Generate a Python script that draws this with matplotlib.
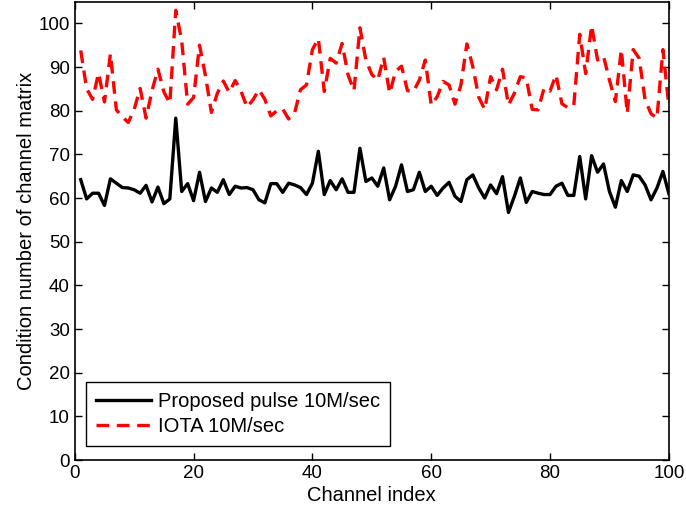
import matplotlib
matplotlib.use("Agg")
import matplotlib.pyplot as plt
import numpy as np

plt.rcParams['font.family'] = ['Liberation Sans', 'DejaVu Sans']

channels = np.arange(1, 101)

proposed = [64.2, 59.8, 61.1, 61.1, 58.3, 64.4, 63.4, 62.4, 62.3, 61.9,
            61.1, 62.9, 59.1, 62.5, 58.7, 59.8, 78.3, 61.5, 63.3, 59.4,
            65.9, 59.2, 62.3, 61.3, 64.2, 60.8, 62.7, 62.3, 62.4, 61.9,
            59.6, 58.9, 63.3, 63.3, 61.3, 63.4, 63.0, 62.4, 60.8, 63.4,
            70.7, 60.8, 64.0, 61.9, 64.4, 61.3, 61.3, 71.4, 63.8, 64.6,
            62.7, 66.9, 59.6, 62.7, 67.6, 61.5, 61.9, 65.9, 61.5, 62.7,
            60.6, 62.3, 63.6, 60.4, 59.2, 64.2, 65.3, 62.3, 60.0, 63.0,
            61.0, 64.9, 56.7, 60.4, 64.6, 59.0, 61.5, 61.1, 60.8, 60.8,
            62.7, 63.4, 60.6, 60.6, 69.5, 59.8, 69.7, 65.9, 67.8, 61.5,
            57.9, 64.0, 61.5, 65.3, 65.0, 63.0, 59.6, 62.3, 66.1, 61.0]

iota = [93.8, 85.0, 82.6, 88.6, 82.0, 93.0, 80.2, 78.6, 77.3, 80.3,
        85.1, 78.3, 84.6, 89.5, 84.3, 81.7, 103.0, 96.0, 81.5, 83.0,
        95.0, 88.0, 79.6, 84.0, 86.8, 84.2, 86.9, 84.4, 80.8, 82.5,
        84.8, 82.6, 78.8, 80.0, 80.4, 78.1, 79.5, 84.8, 85.9, 94.0,
        96.5, 84.4, 92.0, 90.9, 95.4, 88.2, 84.6, 99.0, 91.6, 88.3,
        87.0, 92.2, 84.0, 89.0, 90.2, 84.6, 84.4, 87.0, 91.6, 81.3,
        83.2, 86.7, 85.9, 81.5, 85.9, 95.3, 90.1, 83.1, 80.3, 87.8,
        84.8, 89.5, 81.3, 84.0, 87.8, 87.5, 80.3, 80.2, 85.2, 84.5,
        88.2, 81.6, 80.7, 81.2, 97.5, 88.5, 99.5, 91.6, 92.5, 87.0,
        82.1, 94.0, 79.4, 94.0, 92.0, 82.5, 79.3, 78.3, 94.0, 81.0]

fig = plt.figure(figsize=(6.86, 5.14), dpi=100)
ax = fig.add_axes([0.109, 0.105, 0.866, 0.892])

ax.plot(channels, proposed, color='k', lw=2.4, label='Proposed pulse 10M/sec')
ax.plot(channels, iota, color='r', lw=2.4, ls=(0, (3.8, 2.3)), label='IOTA 10M/sec')

ax.set_xlim(0, 100)
ax.set_ylim(0, 105)
ax.set_xticks(np.arange(0, 101, 20))
ax.set_yticks(np.arange(0, 101, 10))
ax.tick_params(direction='in', top=True, right=True, labelsize=13.5, length=5, width=1)
for s in ax.spines.values():
    s.set_linewidth(1.2)

ax.set_xlabel('Channel index', fontsize=14.5, labelpad=3)
ax.set_ylabel('Condition number of channel matrix', fontsize=14.5, labelpad=2)

leg = ax.legend(loc='lower left', fontsize=14.5, frameon=True, fancybox=False,
                edgecolor='k', framealpha=1, handlelength=2.75, handletextpad=0.35,
                borderpad=0.5, labelspacing=0.3, borderaxespad=0,
                bbox_to_anchor=(0.0185, 0.03))
leg.get_frame().set_linewidth(1.0)

fig.savefig('out.png', dpi=100)
